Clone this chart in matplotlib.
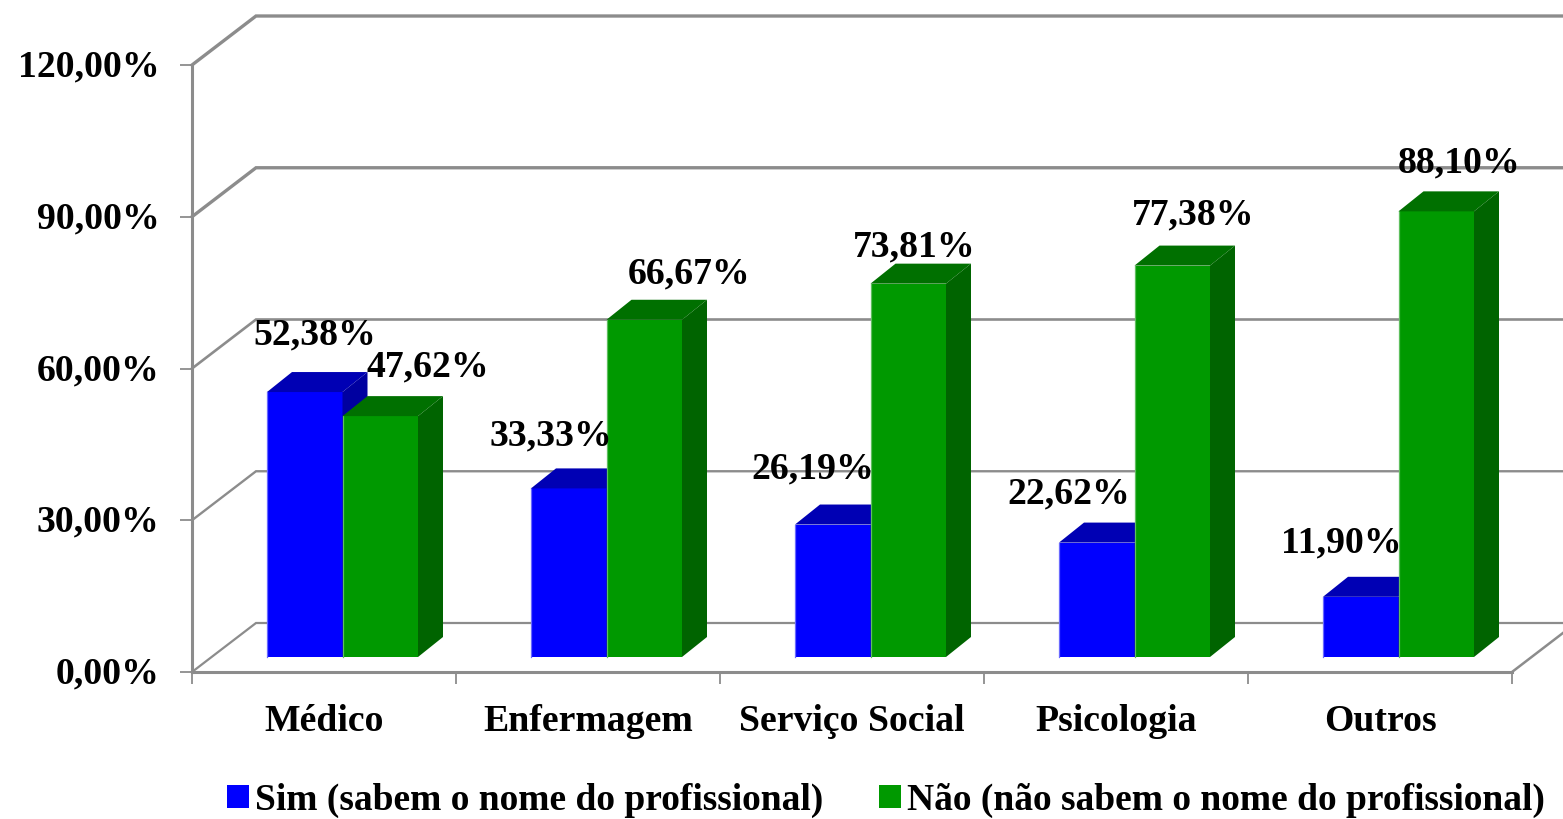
import matplotlib
matplotlib.use("Agg")
import matplotlib.pyplot as plt
from matplotlib.patches import Patch
from matplotlib.transforms import ScaledTranslation

categories = ["Médico", "Enfermagem", "Serviço Social", "Psicologia", "Outros"]
sim = [52.38, 33.33, 26.19, 22.62, 11.90]
nao = [47.62, 66.67, 73.81, 77.38, 88.10]
y_ticks = [0, 30, 60, 90, 120]
y_tick_labels = ["0,00%", "30,00%", "60,00%", "90,00%", "120,00%"]
series_names = ["Sim (sabem o nome do profissional)", "Não (não sabem o nome do profissional)"]

# label offsets in pixels from the bar's front top centre (placement only)
sim_offsets = [(10, 57), (-18, 52), (-20, 56), (-28, 49), (-19, 54)]
nao_offsets = [(48, 49), (45, 46), (6, 37), (21, 51), (23, 48)]
grid_widths = [1.6, 1.7, 1.9, 2.4, 2.4]

W, H = 1563, 819
plt.rcParams["font.family"] = ["Liberation Serif", "DejaVu Serif"]
plt.rcParams["font.weight"] = "bold"
FS = 27.2
GRID = "#8c8c8c"

fig = plt.figure(figsize=(W / 100, H / 100), dpi=100, facecolor="white")
ax = fig.add_axes([192 / W, (H - 672) / H, 1320 / W, 607 / H])
ax.set_xlim(0, 5)
ax.set_ylim(0, 120)
ax.patch.set_visible(False)

px_x = 5 / 1320
px_y = 120 / 607
wall_dx, wall_dy = 64 * px_x, 49 * px_y
bar_w = 75.5 * px_x
shift_x, shift_y = 18.5 * px_x, 15 * px_y
depth_x, depth_y = 25 * px_x, 20 * px_y

# walls and gridlines
for t, lw in zip(y_ticks, grid_widths):
    ax.plot([0, wall_dx, 5 + wall_dx], [t, t + wall_dy, t + wall_dy],
            color=GRID, lw=lw, clip_on=False, zorder=1, solid_joinstyle="miter")
ax.plot([5, 5 + wall_dx], [0, wall_dy], color=GRID, lw=1.8, clip_on=False, zorder=1)


def draw_bars(values, offset_sign, front, top, side, edge, offsets):
    for i, v in enumerate(values):
        x0 = i + 0.5 + shift_x + (0 if offset_sign > 0 else -bar_w)
        x1 = x0 + bar_w
        y0 = shift_y
        y1 = shift_y + v
        ax.bar(x0, v, width=bar_w, bottom=y0, align="edge", color=front,
               edgecolor="none", clip_on=False, zorder=3)
        ax.plot([x0, x0], [y0, y1], color=edge, lw=0.9, clip_on=False, zorder=3)
        ax.fill([x0, x1, x1 + depth_x, x0 + depth_x], [y1, y1, y1 + depth_y, y1 + depth_y],
                color=top, lw=0, clip_on=False, zorder=3)
        ax.fill([x1, x1 + depth_x, x1 + depth_x, x1], [y0, y0 + depth_y, y1 + depth_y, y1],
                color=side, lw=0, clip_on=False, zorder=3)
        ax.annotate(f"{v:.2f}%".replace(".", ","), xy=((x0 + x1) / 2, y1),
                    xytext=offsets[i], textcoords="offset pixels", ha="center", va="center",
                    fontsize=FS, fontweight="bold", color="black", zorder=5,
                    annotation_clip=False)


draw_bars(sim, -1, "#0000ff", "#0000b4", "#0000a0", "#6a6aff", sim_offsets)
draw_bars(nao, 1, "#009900", "#007000", "#006400", "#5fbf5f", nao_offsets)

# axes
for s in ["top", "right"]:
    ax.spines[s].set_visible(False)
for s in ["left", "bottom"]:
    ax.spines[s].set_color(GRID)
    ax.spines[s].set_linewidth(2.2)
    ax.spines[s].set_zorder(2)
ax.set_yticks(y_ticks)
ax.set_yticklabels(y_tick_labels, fontsize=FS, fontweight="bold")
ax.tick_params(axis="y", length=8.5, width=1.3, color=GRID, pad=15)
lift = ScaledTranslation(0, 2 / 100, fig.dpi_scale_trans)
for lab in ax.get_yticklabels():
    lab.set_transform(lab.get_transform() + lift)
ax.set_xticks(range(6))
ax.set_xticklabels([])
ax.tick_params(axis="x", which="major", length=8.5, width=1.3, color=GRID)
ax.set_xticks([i + 0.5 for i in range(5)], minor=True)
ax.set_xticklabels(categories, minor=True, fontsize=FS, fontweight="bold")
ax.tick_params(axis="x", which="minor", length=0, pad=23)

handles = [Patch(facecolor="#0000ff", edgecolor="none", label=series_names[0]),
           Patch(facecolor="#009900", edgecolor="none", label=series_names[1])]
fig.legend(handles=handles, loc="center left", bbox_to_anchor=(227 / W, (H - 800) / H),
           bbox_transform=fig.transFigure, ncols=2, frameon=False, fontsize=27.0,
           handlelength=0.58, handleheight=0.58, handletextpad=0.16, columnspacing=1.5,
           borderpad=0, borderaxespad=0)

fig.savefig("out.png", dpi=100)
